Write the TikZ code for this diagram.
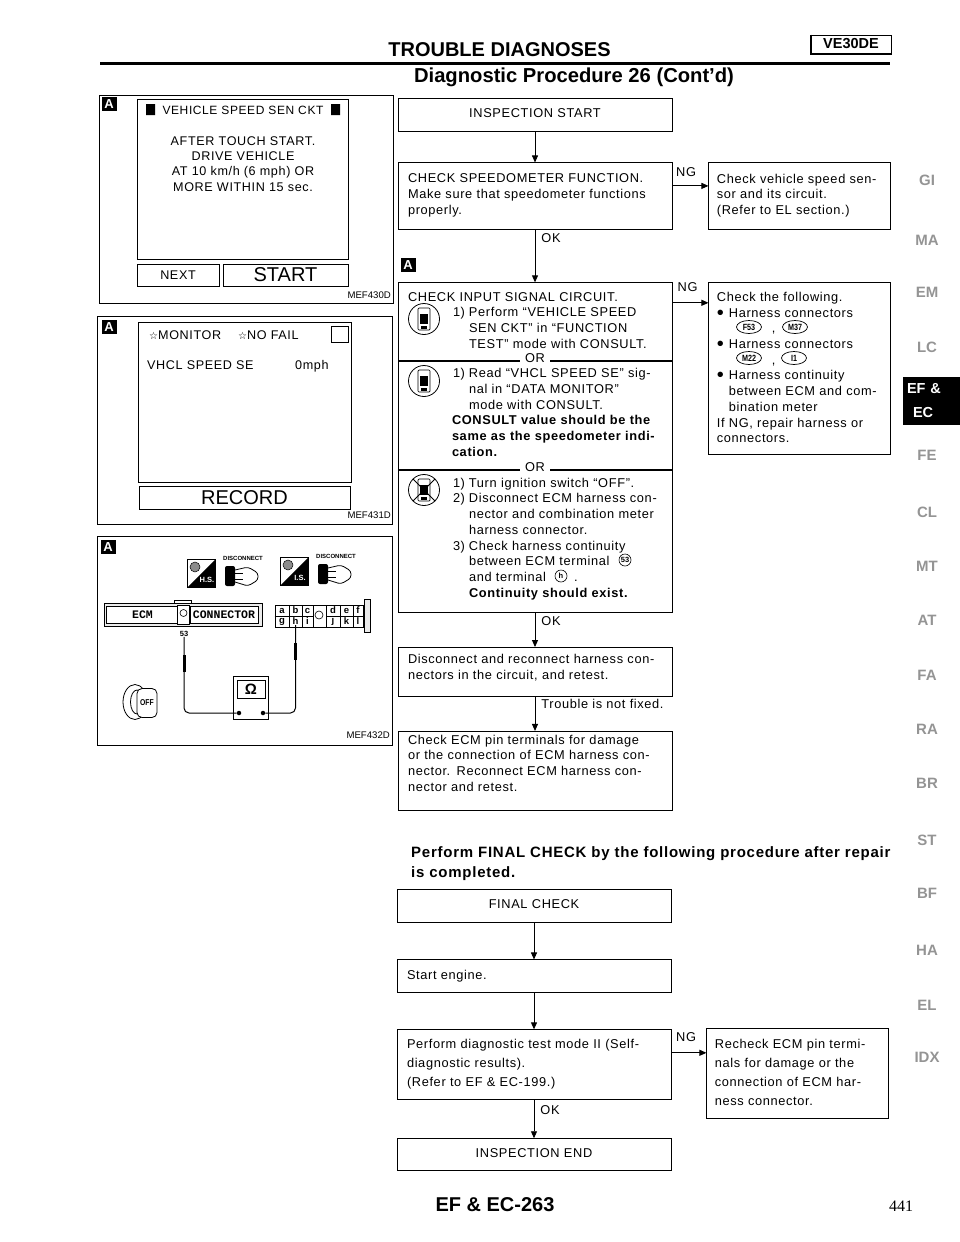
\documentclass[tikz,border=0pt]{standalone}
\usepackage{fontspec}
\setmainfont{Liberation Sans}
\newfontfamily\flowfont[LetterSpace=5]{Liberation Sans}
\newfontfamily\monofont{Liberation Mono}
\newfontfamily\symbfont{DejaVu Sans}
\usetikzlibrary{arrows.meta,positioning,shapes.geometric}
\newcommand{\fs}[2]{\fontsize{#1}{#2}\selectfont}
\newcommand{\itm}[1]{\hspace*{45pt}\makebox[16pt][l]{#1}}
\newcommand{\cont}{\hspace*{61pt}}
\newcommand{\bul}{\makebox[12pt][l]{\raisebox{-2pt}{\fs{20}{15}•}}}

\begin{document}
\begin{tikzpicture}[x=1pt, y=-1pt,
  flowbox/.style={draw, line width=.9pt, minimum width=274pt, text width=254pt, inner xsep=10pt, inner ysep=0pt, align=left, font=\flowfont\fs{12.8}{15.7}},
  loose/.style={font=\flowfont\fs{12.8}{18.7}},
  sidebox/.style={flowbox, minimum width=182pt, text width=166pt, inner xsep=8pt},
  arr/.style={-{Stealth[length=7pt,width=6pt,inset=0pt]}, line width=.9pt},
  flowlabel/.style={inner sep=0pt, font=\flowfont\fs{12.8}{15.7}},
  panel/.style={draw, line width=.8pt, inner sep=0pt},
  badge/.style={fill=black, text=white, inner sep=0pt, minimum width=15pt, minimum height=14pt, font=\bfseries\fs{13}{13}},
  tag/.style={anchor=east, inner sep=0pt, font=\fs{9.6}{10}},
  screentext/.style={inner sep=0pt, font=\flowfont\fs{12.6}{15.3}},
  harness/.style={draw, ellipse, line width=.7pt, inner sep=0pt, minimum width=25pt, minimum height=13pt, font=\bfseries\fs{9}{9}},
  pinmark/.style={draw, circle, line width=.6pt, inner sep=0pt, minimum size=12pt, font=\bfseries\fs{7.5}{8}},
  wire/.style={line width=1pt, rounded corners=5pt},
  tabtext/.style={inner sep=0pt, text=black!42, font=\bfseries\fs{15}{15}}]
  \useasboundingbox (0,0) rectangle (960,1242);

  % header
  \node[inner sep=0pt, font=\bfseries\fs{20}{20}] (title) at (499.5,50) {TROUBLE DIAGNOSES};
  \node[inner sep=0pt, font=\bfseries\fs{20.2}{20}] (subtitle) at (574,77) {Diagnostic Procedure 26 (Cont'd)};
  \node[draw, line width=1pt, minimum width=80pt, minimum height=18pt, inner sep=0pt, font=\bfseries\fs{14.5}{15}] (engine) at (851,44) {VE30DE};
  \draw[line width=2pt] (engine.north west) -- (engine.south west) -- (engine.south east);
  \draw[line width=3pt] (100,63) -- (890,63);

  % first flow
  \node[flowbox, minimum height=33pt, text depth=3pt, align=center] (start) at (535,114.5) {INSPECTION START};
  \node[flowbox, below=31pt of start, minimum height=67pt, text depth=36pt] (speedo) {CHECK SPEEDOMETER FUNCTION.\\Make sure that speedometer functions\\properly.};
  \node[sidebox, right=36pt of speedo, minimum height=67pt, text depth=36pt] (sensor) {Check vehicle speed sen-\\sor and its circuit.\\(Refer to EL section.)};
  \node[flowbox, below=52pt of speedo, minimum height=78pt, text depth=50pt] (inputa) {CHECK INPUT SIGNAL CIRCUIT.\\
    \itm{1)}Perform “VEHICLE SPEED\\\cont SEN CKT” in “FUNCTION\\\cont TEST” mode with CONSULT.};
  \node[flowbox, below=0pt of inputa, minimum height=108pt, text depth=85pt] (inputb) {\itm{1)}Read “VHCL SPEED SE” sig-\\\cont nal in “DATA MONITOR”\\\cont mode with CONSULT.\\
    \hspace*{44pt}\textbf{CONSULT value should be the}\\\hspace*{44pt}\textbf{same as the speedometer indi-}\\\hspace*{44pt}\textbf{cation.}};
  \node[flowbox, below=0pt of inputb, minimum height=142pt, text depth=118pt] (inputc) {\itm{1)}Turn ignition switch “OFF”.\\\itm{2)}Disconnect ECM harness con-\\\cont nector and combination meter\\\cont harness connector.\\
    \itm{3)}Check harness continuity\\\cont between ECM terminal\\\cont and terminal \hspace{24pt}.\\\cont\textbf{Continuity should exist.}};
  \node[sidebox, below right=0pt and 36pt of inputa.north east, minimum height=172pt, text depth=144pt] (harnesses) {Check the following.\\\bul Harness connectors\\\hspace*{55pt},\\\bul Harness connectors\\\hspace*{55pt},\\\bul Harness continuity\\\hspace*{12pt}between ECM and com-\\\hspace*{12pt}bination meter\\If NG, repair harness or\\connectors.};
  \node[flowbox, below=34pt of inputc, minimum height=49pt, text depth=26pt] (reseat) {Disconnect and reconnect harness con-\\nectors in the circuit, and retest.};
  \node[flowbox, below=34pt of reseat, minimum height=79pt, text depth=63pt] (pins) {Check ECM pin terminals for damage\\or the connection of ECM harness con-\\nector. Reconnect ECM harness con-\\nector and retest.};
  \node[flowlabel, fill=white, inner xsep=5pt] (ora) at (535,358) {OR};
  \node[flowlabel, fill=white, inner xsep=5pt] (orb) at (535,467) {OR};
  \node[badge] (badgeflow) at (408,265) {A};

  \draw[arr] (start) -- (speedo);
  \draw[arr] (speedo) -- node[flowlabel, right=6pt, pos=.15]{OK} (inputa);
  \draw[arr] (inputc) -- node[flowlabel, right=6pt, pos=.25]{OK} (reseat);
  \draw[arr] (reseat) -- node[flowlabel, right=6pt, pos=.2]{Trouble is not fixed.} (pins);
  \draw[arr] ([yshift=10.5pt]speedo.east) -- node[flowlabel, above=9pt, pos=.38]{NG} ([yshift=10.5pt]sensor.west);
  \coordinate (nginput) at ([yshift=19pt]inputa.east);
  \draw[arr] (nginput) -- node[flowlabel, above=11pt, pos=.42]{NG} (harnesses.west |- nginput);

  % harness symbols in the flow text
  \node[harness] (hfa) at (749,327) {\scalebox{.8}[1]{F53}};
  \node[harness] (hfb) at (795,327) {\scalebox{.8}[1]{M37}};
  \node[harness] (hfc) at (749,358) {\scalebox{.8}[1]{M22}};
  \node[harness] (hfd) at (794,358) {\scalebox{.8}[1]{I1}};
  \node[pinmark] (pinfa) at (625,560) {53};
  \node[pinmark] (pinfb) at (561,576) {h};

  % consult icons
  \foreach \iconname/\iy in {consa/319, consb/381, consc/490} {
    \node[draw, circle, line width=.8pt, minimum size=31pt, inner sep=0pt] (\iconname) at (424,\iy) {};
    \draw[line width=.7pt, fill=white, rounded corners=1pt] (418,\iy-11) rectangle (430,\iy+11);
    \fill (420,\iy-5) rectangle (428,\iy+5);
    \fill (421,\iy+7) rectangle (427,\iy+10);
  }
  \draw[line width=.8pt] (consc.north west) -- (consc.south east);
  \draw[line width=.8pt] (consc.north east) -- (consc.south west);

  % final check flow
  \node[inner sep=0pt, anchor=north west, align=left, font=\flowfont\bfseries\fs{15}{20}] (finalnote) at (411,846) {Perform FINAL CHECK by the following procedure after repair\\is completed.};
  \node[flowbox, minimum height=33pt, text depth=3pt, align=center] (final) at (534,905.5) {FINAL CHECK};
  \node[flowbox, below=37pt of final, minimum height=33pt, text depth=4pt] (engstart) {Start engine.};
  \node[flowbox, loose, below=36pt of engstart, minimum height=70pt, text depth=41pt] (testmode) {Perform diagnostic test mode II (Self-\\diagnostic results).\\(Refer to EF \& EC-199.)};
  \node[sidebox, loose, right=35pt of testmode, yshift=-9pt, minimum height=90pt, text depth=59pt] (recheck) {Recheck ECM pin termi-\\nals for damage or the\\connection of ECM har-\\ness connector.};
  \node[flowbox, below=38pt of testmode, minimum height=32pt, text depth=3pt, align=center] (finish) {INSPECTION END};
  \draw[arr] (final) -- (engstart);
  \draw[arr] (engstart) -- (testmode);
  \draw[arr] (testmode) -- node[flowlabel, right=6pt, pos=.25]{OK} (finish);
  \coordinate (ngtest) at ([yshift=12pt]testmode.east);
  \draw[arr] (ngtest) -- node[flowlabel, above=11pt, pos=.42]{NG} (recheck.west |- ngtest);

  % panel 1
  \node[panel, minimum width=294pt, minimum height=208pt] (panela) at (246,199) {};
  \node[badge] (badgea) at (109,104) {A};
  \node[panel, minimum width=211pt, minimum height=160pt] (screena) at (242.5,179) {};
  \fill (146,104) rectangle (155,115) (331,104) rectangle (340,115);
  \node[screentext, font=\flowfont\fs{12}{15}] (screenhead) at (243,110) {VEHICLE SPEED SEN CKT};
  \node[screentext, align=center] (screenbody) at (243,164) {AFTER TOUCH START.\\DRIVE VEHICLE\\AT 10 km/h (6 mph) OR\\MORE WITHIN 15 sec.};
  \node[panel, minimum width=82pt, minimum height=22pt, screentext, draw] (next) at (178,275) {NEXT};
  \node[panel, minimum width=125pt, minimum height=22pt, font=\fs{20}{20}] (startkey) at (285.5,275) {START};
  \node[tag] (tagd) at (391,295) {MEF430D};

  % panel 2
  \node[panel, minimum width=295pt, minimum height=208pt] (panelb) at (244.5,420) {};
  \node[badge] (badgeb) at (109,327) {A};
  \node[panel, minimum width=213pt, minimum height=160pt] (screenb) at (244.5,402) {};
  \node[panel, minimum width=17pt, minimum height=16pt] (flagbox) at (339.5,334) {};
  \node[screentext, anchor=west] (monitor) at (149,335) {{\symbfont\fs{10}{10}☆}MONITOR};
  \node[screentext, anchor=west] (nofail) at (238,335) {{\symbfont\fs{10}{10}☆}NO FAIL};
  \node[screentext, anchor=base west] (signal) at (147,369.5) {VHCL SPEED SE};
  \node[screentext, anchor=base west] (reading) at (295,369.5) {0mph};
  \node[panel, minimum width=211pt, minimum height=23pt, font=\fs{20}{20}] (record) at (244.5,497.5) {RECORD};
  \node[tag] (tage) at (391,515) {MEF431D};

  % panel 3
  \node[panel, minimum width=295pt, minimum height=209pt] (panelc) at (244.5,640.5) {};
  \node[badge] (badgec) at (108,547) {A};
  \foreach \qx/\qy/\qtext/\qname in {187/559/H.S./hs, 280/557/I.S./is} {
    \node[panel, anchor=north west, minimum size=28pt] (sq\qname) at (\qx,\qy) {};
    \fill (sq\qname.north east) -- (sq\qname.south east) -- (sq\qname.south west) -- cycle;
    \node[inner sep=0pt, text=white, font=\bfseries\fs{7.5}{8}] at (\qx+20,\qy+21) {\qtext};
    \node[draw, circle, fill=black!45, line width=.5pt, minimum size=10pt, inner sep=0pt] at (\qx+8,\qy+8) {};
    \node[inner sep=0pt, font=\bfseries\fs{6}{6}] at (\qx+56,\qy-1) {DISCONNECT};
    \fill[rounded corners=2pt] (\qx+38,\qy+7) rectangle (\qx+48,\qy+27);
    \draw[line width=.8pt, rounded corners=3pt] (\qx+48,\qy+11) -- (\qx+61,\qy+8) -- (\qx+71,\qy+14) -- (\qx+71,\qy+21) -- (\qx+61,\qy+27) -- (\qx+48,\qy+23);
    \draw[line width=.8pt] (\qx+48,\qy+14) -- (\qx+56,\qy+14) (\qx+48,\qy+20) -- (\qx+56,\qy+20);
  }
  % ecm connector
  \draw[line width=.8pt] (174,603) -- (174,600) -- (191,600) -- (191,603);
  \node[panel, minimum width=158pt, minimum height=23pt, fill=black!8] (ecmouter) at (183,614.5) {};
  \node[panel, minimum width=72pt, minimum height=17pt, fill=white, font=\monofont\bfseries\fs{11.5}{12}] (ecmcell) at (142.5,614.5) {ECM};
  \node[panel, minimum width=12pt, minimum height=19pt, fill=white] (ecmkey) at (183.5,614.5) {};
  \node[draw, circle, line width=.6pt, minimum size=7pt, inner sep=0pt] (ecmhole) at (183.5,613) {};
  \node[panel, minimum width=68pt, minimum height=17pt, fill=white, font=\monofont\bfseries\fs{11.5}{12}] (ecmword) at (224,614.5) {CONNECTOR};
  % terminals
  \node[panel, minimum width=88pt, minimum height=22pt] (termblock) at (319,616) {};
  \node[panel, anchor=west, minimum width=6pt, minimum height=33pt, fill=black!8] (termpost) at (363.5,615.5) {};
  \draw[line width=.8pt] (termblock.west) -- (313,616) (326,616) -- (termblock.east);
  \foreach \tx in {289,302,313,326,340,353} \draw[line width=.8pt] (\tx,605) -- (\tx,627);
  \foreach \tl/\tx in {a/282,b/295.5,c/307.5,d/333,e/346.5,f/358} \node[inner sep=0pt, font=\bfseries\fs{9.5}{10}] (term\tl) at (\tx,610.5) {\tl};
  \foreach \tl/\tx in {g/282,h/295.5,i/307.5,j/333,k/346.5,l/358} \node[inner sep=0pt, font=\bfseries\fs{9.5}{10}] (term\tl) at (\tx,621.5) {\tl};
  \node[draw, circle, line width=.6pt, minimum size=8pt, inner sep=0pt] (termhole) at (319,615) {};
  % meter and probes
  \node[inner sep=0pt, font=\bfseries\fs{7.5}{8}] (pinlabel) at (184,634) {53};
  \node[panel, minimum width=35pt, minimum height=43pt] (meter) at (250.5,697.5) {};
  \node[panel, minimum width=28pt, minimum height=18pt, font=\bfseries\fs{15}{15}] (meterface) at (251,689) {Ω};
  \node[fill, circle, inner sep=0pt, minimum size=4.5pt] (dotleft) at (239,713) {};
  \node[fill, circle, inner sep=0pt, minimum size=4.5pt] (dotright) at (263,713) {};
  \draw[wire] (pinlabel.south) |- (dotleft);
  \draw[wire] (termh.south) |- (dotright);
  \draw[line width=3pt] (184,655) -- (184,672);
  \draw[line width=3pt] (295.5,643) -- (295.5,660);
  % ignition key
  \node[draw, ellipse, line width=.8pt, minimum width=24pt, minimum height=35pt, inner sep=0pt] (keyring) at (135,702) {};
  \node[draw, ellipse, line width=.8pt, minimum width=13pt, minimum height=24pt, inner sep=0pt] (keycore) at (137,702) {};
  \node[draw, rounded corners=5pt, line width=.8pt, fill=white, minimum width=20pt, minimum height=29pt, inner sep=0pt, font=\bfseries\fs{8.5}{9}] (keyoff) at (147,703) {\scalebox{.8}[1]{OFF}};
  \node[tag] (tagf) at (390,735) {MEF432D};

  % section tabs
  \foreach \tabname/\ty in {GI/180, MA/240, EM/292, LC/347, FE/455, CL/512, MT/566, AT/620, FA/675, RA/729, BR/783, ST/840, BF/893, HA/950, EL/1005, IDX/1057}
    \node[tabtext] (tab\tabname) at (927,\ty) {\tabname};
  \node[fill=black, text=white, inner xsep=4pt, inner ysep=0pt, minimum height=48pt, text width=49pt, align=left, font=\bfseries\fs{14.5}{24}] (tabcur) at (931.5,401) {EF \&\\\hspace*{6pt}EC};

  % footer
  \node[inner sep=0pt, font=\bfseries\fs{20}{20}] (pagenum) at (495,1205) {EF \& EC-263};
  \node[inner sep=0pt, font=\fontspec{Liberation Serif}\fs{16}{16}] (pagetotal) at (901,1206) {441};
\end{tikzpicture}
\end{document}
